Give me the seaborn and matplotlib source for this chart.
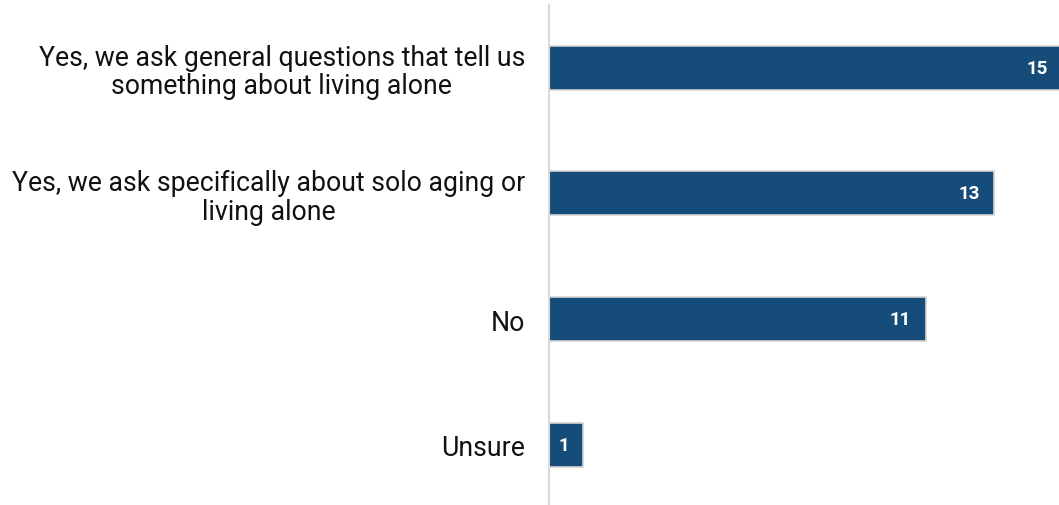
import matplotlib
matplotlib.use("Agg")
import matplotlib.pyplot as plt
import seaborn as sns
import pandas as pd

categories = [
    "Yes, we ask general questions that tell us\nsomething about living alone",
    "Yes, we ask specifically about solo aging or\nliving alone",
    "No",
    "Unsure",
]
values = [15, 13, 11, 1]

sns.set_style("white")
plt.rcParams["font.family"] = ["Roboto", "DejaVu Sans"]

df = pd.DataFrame({"category": categories, "value": values})

fig = plt.figure(figsize=(10.59, 5.06), dpi=100)
ax = fig.add_axes([549 / 1059, 0, 510 / 1059, 500 / 506])

bar_color = "#154c7a"
sns.barplot(data=df, x="value", y="category", orient="h", color=bar_color,
            saturation=1, width=0.35, edgecolor="#d4d4d4", linewidth=1.2, ax=ax)

ax.set_xlim(0, 14.9)
ax.set_ylim(3.48, -0.5)
ax.set_xlabel("")
ax.set_ylabel("")
ax.set_xticks([])
for s in ["top", "right", "bottom"]:
    ax.spines[s].set_visible(False)
ax.spines["left"].set_color("#d9d9d9")
ax.spines["left"].set_linewidth(1.5)

ax.tick_params(axis="y", length=0, pad=17.3, labelsize=19.2, labelcolor="#111111")
for lbl in ax.get_yticklabels():
    lbl.set_multialignment("center")
    lbl.set_linespacing(1.08)

for i, v in enumerate(values):
    ax.text(v - 0.42, i, str(v), ha="right", va="center", color="white",
            fontsize=13.5, fontweight="bold")

fig.savefig("out.png", dpi=100)
